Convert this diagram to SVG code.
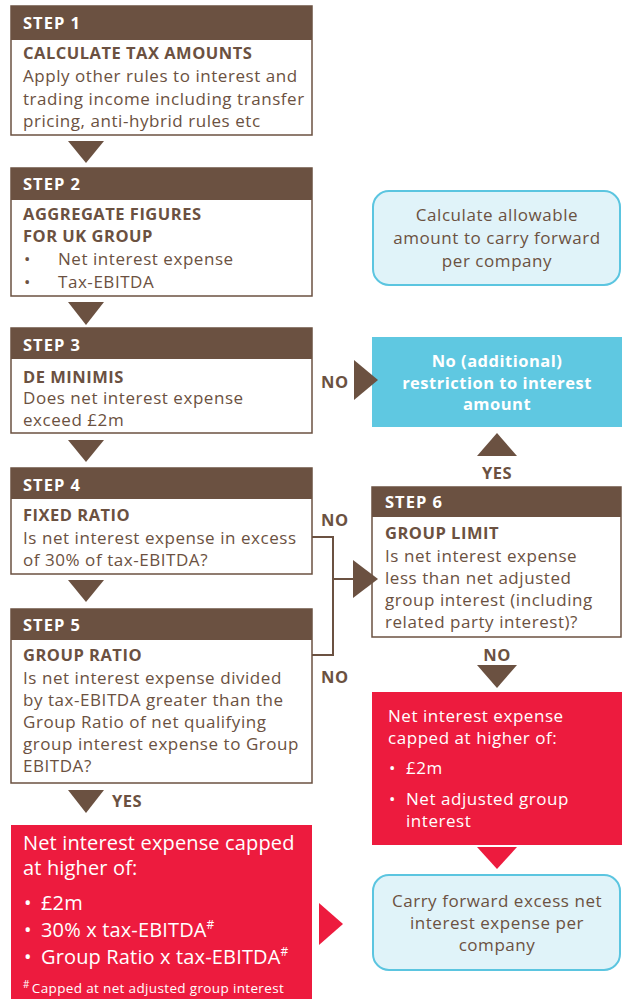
<svg xmlns="http://www.w3.org/2000/svg" width="622" height="999" viewBox="0 0 622 999">
<style>
text{font-family:"Open Sans","Noto Sans","DejaVu Sans",sans-serif;}
.hdr{fill:#6b5141;}
.box{fill:#fff;stroke:#6b5141;stroke-width:1.5;}
.ht{fill:#fff;font-weight:bold;font-size:16.5px;letter-spacing:1px;}
.tt{fill:#6b5141;font-weight:bold;font-size:16.5px;letter-spacing:0.5px;}
.bt{fill:#6b5141;font-size:17px;letter-spacing:0.55px;}
.lbl{fill:#6b5141;font-weight:bold;font-size:16.5px;letter-spacing:0.5px;}
.tri{fill:#6b5141;}
.red{fill:#ed1b3e;}
.wt{fill:#fff;font-size:17px;letter-spacing:0.55px;}
.wtb{fill:#fff;font-weight:bold;font-size:16.5px;letter-spacing:0.5px;}
.big{fill:#fff;font-size:20px;letter-spacing:0.15px;}
.lc{fill:#e0f3f9;stroke:#5bc5e0;stroke-width:2;}
.conn{fill:none;stroke:#6b5141;stroke-width:2;}
.mid{text-anchor:middle;}
</style>

<g id="step1">
<rect class="box" x="11" y="6" width="301" height="129"/>
<rect class="hdr" x="11" y="6" width="301" height="34"/>
<text class="ht" x="23" y="29">STEP 1</text>
<text class="tt" x="23" y="59">CALCULATE TAX AMOUNTS</text>
<text class="bt" x="23" y="82">Apply other rules to interest and</text>
<text class="bt" x="23" y="105" letter-spacing="0.45">trading income including transfer</text>
<text class="bt" x="23" y="127">pricing, anti-hybrid rules etc</text>
</g>

<g id="step2">
<rect class="box" x="11" y="168" width="301" height="128"/>
<rect class="hdr" x="11" y="168" width="301" height="32"/>
<text class="ht" x="23" y="190">STEP 2</text>
<text class="tt" x="23" y="220">AGGREGATE FIGURES</text>
<text class="tt" x="23" y="242">FOR UK GROUP</text>
<text class="bt" x="24" y="265">•</text>
<text class="bt" x="58" y="265">Net interest expense</text>
<text class="bt" x="24" y="288">•</text>
<text class="bt" x="58" y="288">Tax-EBITDA</text>
</g>

<g id="step3">
<rect class="box" x="11" y="328" width="301" height="105"/>
<rect class="hdr" x="11" y="328" width="301" height="31"/>
<text class="ht" x="23" y="351">STEP 3</text>
<text class="tt" x="23" y="383">DE MINIMIS</text>
<text class="bt" x="23" y="404">Does net interest expense</text>
<text class="bt" x="23" y="426">exceed £2m</text>
</g>

<g id="step4">
<rect class="box" x="11" y="468" width="301" height="106"/>
<rect class="hdr" x="11" y="468" width="301" height="31"/>
<text class="ht" x="23" y="491">STEP 4</text>
<text class="tt" x="23" y="521">FIXED RATIO</text>
<text class="bt" x="23" y="544">Is net interest expense in excess</text>
<text class="bt" x="23" y="566">of 30% of tax-EBITDA?</text>
</g>

<g id="step5">
<rect class="box" x="11" y="609" width="301" height="174"/>
<rect class="hdr" x="11" y="609" width="301" height="31"/>
<text class="ht" x="23" y="631">STEP 5</text>
<text class="tt" x="23" y="661">GROUP RATIO</text>
<text class="bt" x="23" y="684">Is net interest expense divided</text>
<text class="bt" x="23" y="706">by tax-EBITDA greater than the</text>
<text class="bt" x="23" y="728">Group Ratio of net qualifying</text>
<text class="bt" x="23" y="750">group interest expense to Group</text>
<text class="bt" x="23" y="772">EBITDA?</text>
</g>

<g id="step6">
<rect class="box" x="372" y="487" width="249" height="150"/>
<rect class="hdr" x="372" y="487" width="249" height="30"/>
<text class="ht" x="385" y="508">STEP 6</text>
<text class="tt" x="385" y="539">GROUP LIMIT</text>
<text class="bt" x="385" y="562">Is net interest expense</text>
<text class="bt" x="385" y="584">less than net adjusted</text>
<text class="bt" x="385" y="606">group interest (including</text>
<text class="bt" x="385" y="628">related party interest)?</text>
</g>

<g id="calc-allowable">
<rect class="lc" x="373" y="191" width="247" height="94" rx="16"/>
<text class="bt mid" x="497" y="221">Calculate allowable</text>
<text class="bt mid" x="497" y="244">amount to carry forward</text>
<text class="bt mid" x="497" y="267">per company</text>
</g>

<g id="no-restriction">
<rect fill="#5fc8e1" x="372" y="337" width="250" height="90"/>
<text class="wtb mid" x="497" y="367">No (additional)</text>
<text class="wtb mid" x="497" y="389">restriction to interest</text>
<text class="wtb mid" x="497" y="410">amount</text>
</g>

<g id="cap-right">
<rect class="red" x="372" y="692" width="250" height="153"/>
<text class="wt" x="388" y="722">Net interest expense</text>
<text class="wt" x="388" y="744">capped at higher of:</text>
<text class="wt" x="389" y="774">•</text>
<text class="wt" x="406" y="774">£2m</text>
<text class="wt" x="389" y="805">•</text>
<text class="wt" x="406" y="805">Net adjusted group</text>
<text class="wt" x="406" y="827">interest</text>
</g>

<g id="carry-forward">
<rect class="lc" x="373" y="875" width="247" height="95" rx="16"/>
<text class="bt mid" x="497" y="907">Carry forward excess net</text>
<text class="bt mid" x="497" y="929">interest expense per</text>
<text class="bt mid" x="497" y="951">company</text>
</g>

<g id="cap-left">
<rect class="red" x="11" y="825" width="301" height="174"/>
<text class="big" x="23" y="850">Net interest expense capped</text>
<text class="big" x="23" y="875">at higher of:</text>
<text class="big" x="24" y="910">•</text>
<text class="big" x="41" y="910">£2m</text>
<text class="big" x="24" y="937">•</text>
<text class="big" x="41" y="937">30% x tax-EBITDA<tspan font-size="12" dy="-8">#</tspan></text>
<text class="big" x="24" y="964">•</text>
<text class="big" x="41" y="964">Group Ratio x tax-EBITDA<tspan font-size="12" dy="-8">#</tspan></text>
<text fill="#fff" x="23" y="993" font-size="13.5" letter-spacing="0.35"><tspan font-size="10" dy="-5">#</tspan><tspan dy="5" dx="2">Capped at net adjusted group interest</tspan></text>
</g>

<g id="connectors">
<polygon class="tri" points="68,141 104,141 86,163"/>
<polygon class="tri" points="68,302 104,302 86,325"/>
<polygon class="tri" points="68,440 104,440 86,462"/>
<polygon class="tri" points="68,580 104,580 86,602"/>
<polygon class="tri" points="68,790 104,790 86,813"/>
<text class="lbl" x="112" y="807">YES</text>
<polygon class="tri" points="354,360 378,380 354,400"/>
<text class="lbl" x="321" y="388">NO</text>
<polygon class="tri" points="477,456 497,433 517,456"/>
<text class="lbl mid" x="497" y="479">YES</text>
<path class="conn" d="M312,537 H333 V655 H312 M333,579 H356"/>
<polygon class="tri" points="353,560 378,579 353,598"/>
<text class="lbl" x="321" y="526">NO</text>
<text class="lbl" x="321" y="683">NO</text>
<text class="lbl mid" x="497" y="661">NO</text>
<polygon class="tri" points="477,665 517,665 497,688"/>
<polygon class="red" points="477,847 517,847 497,869"/>
<polygon class="red" points="319,903 343,924 319,945"/>
</g>
</svg>
